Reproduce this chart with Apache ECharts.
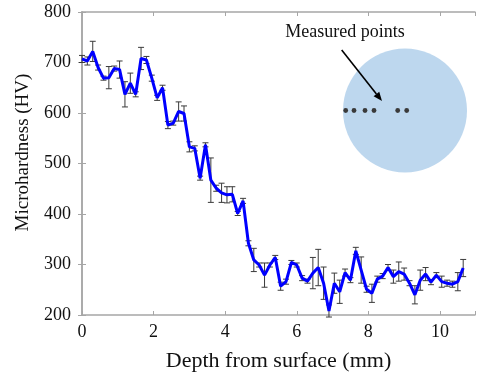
<!DOCTYPE html>
<html>
<head>
<meta charset="utf-8">
<script src="https://cdn.jsdelivr.net/npm/echarts@6/dist/echarts.min.js"></script>
<style>
html,body{margin:0;padding:0;background:#fff;}
#c{width:478px;height:377px;}
</style>
</head>
<body>
<div id="c"></div>
<script>
const depth = [0,0.15,0.3,0.45,0.6,0.75,0.9,1.05,1.2,1.35,1.5,1.65,1.8,1.95,2.1,2.25,2.4,2.55,2.7,2.85,3,3.15,3.3,3.45,3.6,3.75,3.9,4.05,4.2,4.35,4.5,4.65,4.8,4.95,5.1,5.25,5.4,5.55,5.7,5.85,6,6.15,6.3,6.45,6.6,6.75,6.9,7.05,7.2,7.35,7.5,7.65,7.8,7.95,8.1,8.25,8.4,8.55,8.7,8.85,9,9.15,9.3,9.45,9.6,9.75,9.9,10.05,10.2,10.35,10.5,10.65];
const hardness = [707,703,722,690,669,670,688,686,637,659,
  637,708,705,669,630,650,576,580,603,599,
  533,530,471,537,467,451,442,438,439,401,
  426,342,309,299,279,299,314,257,266,304,
  299,273,267,283,294,263,208,263,246,284,
  269,327,289,251,243,271,277,294,276,286,
  281,263,240,269,281,265,279,266,263,261,
  266,293];
const errors = [7,8,20,5,4,22,5,17,25,20,
  5,22,7,6,5,5,7,4,19,15,
  10,5,4,4,44,6,19,16,15,4,
  5,5,23,4,24,4,4,8,5,4,
  4,5,4,31,36,32,12,20,23,7,
  5,7,26,6,18,6,5,6,13,19,
  12,5,18,20,13,5,5,11,6,6,
  18,17];
const xTicks = [0,2,4,6,8,10];
const yTicks = [200,300,400,500,600,700,800];
const xName = 'Depth from surface (mm)';
const yName = 'Microhardness (HV)';
const insetLabel = 'Measured points';

const FONT = '"Liberation Serif", "DejaVu Serif", serif';
const AX = '#a6a6a6';
const TXT = '#111';

const lineData = depth.map((d, i) => [d, hardness[i]]);
const errData = depth.map((d, i) => [d, hardness[i] - errors[i], hardness[i] + errors[i]]);

const chart = echarts.init(document.getElementById('c'), null, {renderer: 'canvas'});

function renderErr(params, api) {
  const x = api.value(0);
  const lo = api.coord([x, api.value(1)]);
  const hi = api.coord([x, api.value(2)]);
  const cw = 3;
  const st = {stroke: '#3a3a3a', lineWidth: 1};
  return {
    type: 'group',
    children: [
      {type: 'line', shape: {x1: lo[0], y1: lo[1], x2: hi[0], y2: hi[1]}, style: st},
      {type: 'line', shape: {x1: lo[0]-cw, y1: lo[1], x2: lo[0]+cw, y2: lo[1]}, style: st},
      {type: 'line', shape: {x1: hi[0]-cw, y1: hi[1], x2: hi[0]+cw, y2: hi[1]}, style: st}
    ]
  };
}

// arrow geometry
const ax1 = 341.7, ay1 = 50, ax2 = 382, ay2 = 101;
const dx = ax2 - ax1, dy = ay2 - ay1, L = Math.hypot(dx, dy);
const ux = dx / L, uy = dy / L;
const hl = 9, hw = 3.6;
const bx = ax2 - ux * hl, by = ay2 - uy * hl;

const dotXs = [345.7, 354, 365, 374, 397.7, 406.7];

chart.setOption({
  animation: false,
  backgroundColor: '#fff',
  grid: {left: 82, right: -2, top: 12, bottom: 62, containLabel: false},
  xAxis: [{
    type: 'value', min: 0, max: 10.98, interval: 2,
    name: xName, nameLocation: 'middle', nameGap: 35,
    nameTextStyle: {fontFamily: FONT, fontSize: 22, color: TXT},
    axisLine: {show: true, lineStyle: {color: AX, width: 1.5}},
    axisTick: {show: true, inside: true, length: 4, lineStyle: {color: AX}},
    axisLabel: {fontFamily: FONT, fontSize: 18, color: TXT, margin: 8,
      formatter: v => (xTicks.indexOf(v) >= 0 ? String(v) : '')},
    splitLine: {show: false}
  }, {
    type: 'value', position: 'top', min: 0, max: 10.98, interval: 2,
    axisLine: {show: true, lineStyle: {color: AX, width: 1.5}},
    axisTick: {show: true, inside: true, length: 4, lineStyle: {color: AX}},
    axisLabel: {show: false}, splitLine: {show: false}
  }],
  yAxis: [{
    type: 'value', min: 200, max: 800, interval: 100,
    name: yName, nameLocation: 'middle', nameGap: 49,
    nameTextStyle: {fontFamily: FONT, fontSize: 19, color: TXT, padding: [0, 0, 0, 22]},
    axisLine: {show: true, lineStyle: {color: AX, width: 1.5}},
    axisTick: {show: true, inside: true, length: 4, lineStyle: {color: AX}},
    axisLabel: {fontFamily: FONT, fontSize: 18, color: TXT, margin: 11,
      formatter: v => (yTicks.indexOf(v) >= 0 ? String(v) : '')},
    splitLine: {show: false}
  }, {
    type: 'value', position: 'right', min: 200, max: 800, interval: 100,
    axisLine: {show: true, lineStyle: {color: AX, width: 1.5}},
    axisTick: {show: true, inside: true, length: 4, lineStyle: {color: AX}},
    axisLabel: {show: false}, splitLine: {show: false}
  }],
  series: [{
    type: 'custom',
    renderItem: renderErr,
    data: errData,
    encode: {x: 0, y: [1, 2]},
    z: 2,
    silent: true
  }, {
    type: 'line',
    data: lineData,
    showSymbol: false,
    symbol: 'none',
    lineStyle: {color: '#0000ff', width: 3},
    z: 3
  }],
  graphic: [
    {type: 'circle', shape: {cx: 405, cy: 110.5, r: 62}, style: {fill: '#bdd7ee'}, z: 1},
    ...dotXs.map(x => ({type: 'circle', shape: {cx: x, cy: 110.5, r: 2.4}, style: {fill: '#3a3a3a'}, z: 2})),
    {type: 'line', shape: {x1: ax1, y1: ay1, x2: bx, y2: by}, style: {stroke: '#000', lineWidth: 1.6}, z: 3},
    {type: 'polygon', shape: {points: [[ax2, ay2], [bx - uy * hw, by + ux * hw], [bx + uy * hw, by - ux * hw]]}, style: {fill: '#000'}, z: 3},
    {type: 'text', x: 345, y: 32, style: {text: insetLabel, fontFamily: FONT, fontSize: 18, fill: TXT, align: 'center', verticalAlign: 'middle'}, z: 3}
  ]
});
</script>
</body>
</html>
